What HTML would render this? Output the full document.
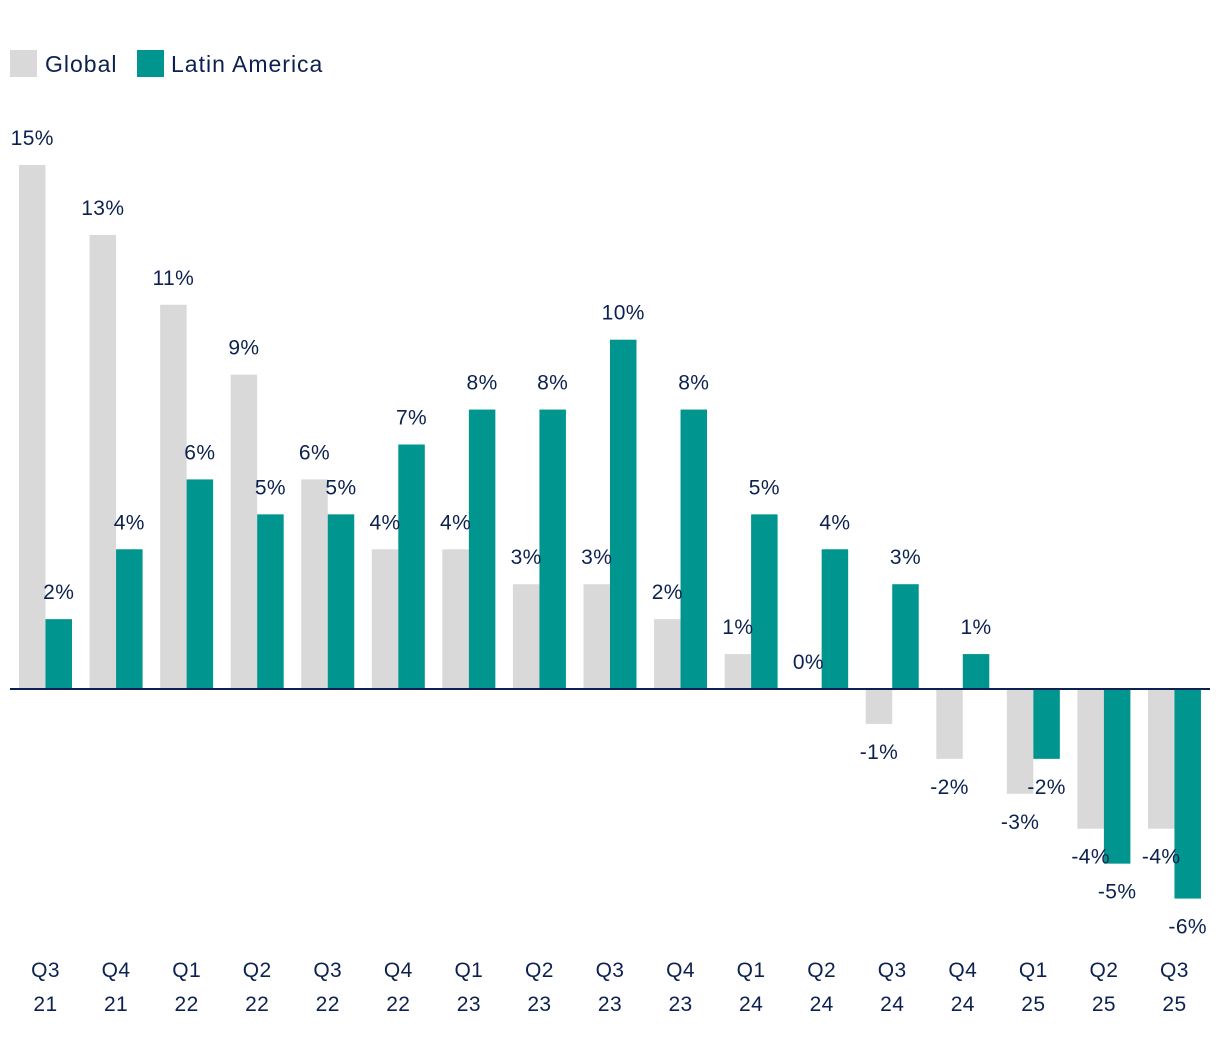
<!DOCTYPE html>
<html><head><meta charset="utf-8"><style>
body{margin:0;background:#fff;}
svg{display:block;font-family:"Liberation Sans",sans-serif;}
</style></head><body>
<svg id="chart" width="1220" height="1040" viewBox="0 0 1220 1040">
<g>
<rect x="10" y="50" width="27" height="27" fill="#d9d9d9"/>
<text x="45" y="72" font-size="23" letter-spacing="1" fill="#0c2150">Global</text>
<rect x="137" y="50" width="27" height="27" fill="#00968f"/>
<text x="171" y="72" font-size="23" letter-spacing="1" fill="#0c2150">Latin America</text>
</g>
<g id="bars"></g>
<line x1="10" x2="1210" y1="689" y2="689" stroke="#0c2150" stroke-width="2"/>
<g id="labels"></g>
</svg>
<script>
const quarters=["Q3","Q4","Q1","Q2","Q3","Q4","Q1","Q2","Q3","Q4","Q1","Q2","Q3","Q4","Q1","Q2","Q3"];
const years=["21","21","22","22","22","22","23","23","23","23","24","24","24","24","25","25","25"];
const globalVals=[15,13,11,9,6,4,4,3,3,2,1,0,-1,-2,-3,-4,-4];
const latamVals=[2,4,6,5,5,7,8,8,10,8,5,4,3,1,-2,-5,-6];
const NS="http://www.w3.org/2000/svg";
const zeroY=689, unit=34.93, x0=19, step=70.56, bw=26.5;
const y=v=>zeroY-v*unit;
const bars=document.getElementById('bars'), labels=document.getElementById('labels');
function mk(t,a,parent){const e=document.createElementNS(NS,t);for(const k in a)e.setAttribute(k,a[k]);parent.appendChild(e);return e;}
function series(vals,off,color,name){
 vals.forEach((v,i)=>{
  const x=x0+i*step+off;
  const top=Math.min(y(v),zeroY), h=Math.abs(y(v)-zeroY);
  const r=mk('rect',{x:x,y:top,width:bw,height:h,fill:color},bars);
  
  
  const ly=v>=0?y(v)-20:y(v)+35;
  const t=mk('text',{x:x+bw/2,y:ly,'font-size':21,'letter-spacing':0.4,'text-anchor':'middle',fill:'#0c2150'},labels);
  t.textContent=v+'%';
  
  
 });
}
series(globalVals,0,'#d9d9d9','global');
series(latamVals,bw,'#00968f','latin-america');
quarters.forEach((q,i)=>{
 const cx=x0+i*step+bw;
 const t=mk('text',{x:cx,y:977,'font-size':21,'letter-spacing':0.4,'text-anchor':'middle',fill:'#0c2150'},labels);
 t.textContent=q;
 
 
 const t2=mk('text',{x:cx,y:1011,'font-size':21,'letter-spacing':0.4,'text-anchor':'middle',fill:'#0c2150'},labels);
 t2.textContent=years[i];
 
 
});
</script>
</body></html>
